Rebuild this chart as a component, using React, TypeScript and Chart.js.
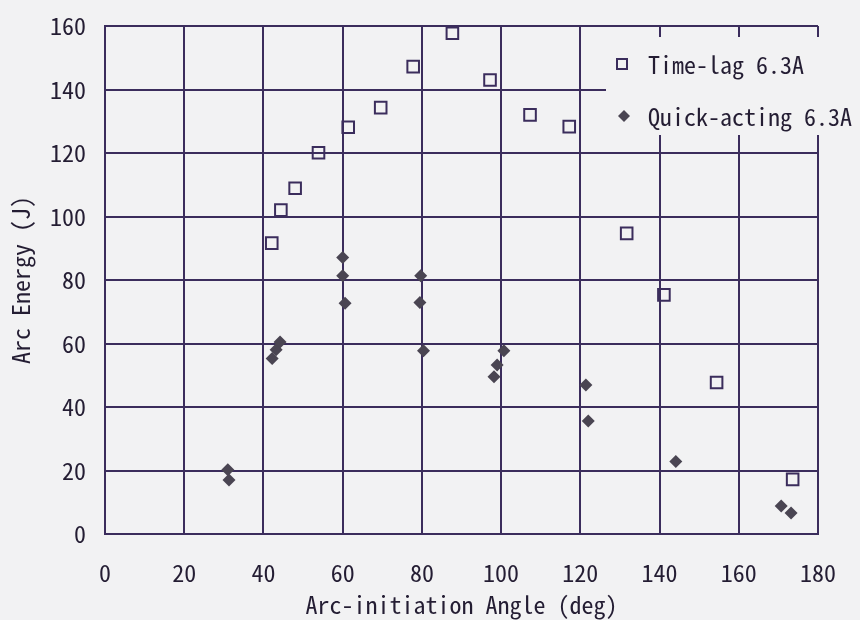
import React, { useEffect, useRef } from "react";
import { Chart, registerables } from "chart.js";

Chart.register(...registerables);

const timeLagX = [42.1, 44.4, 48.0, 53.9, 61.4, 69.6, 77.8, 87.7, 97.2, 107.3, 117.2, 131.7, 141.1, 154.4, 173.6];
const timeLagY = [91.6, 102.0, 108.9, 120.1, 128.1, 134.3, 147.2, 157.7, 143.0, 132.0, 128.3, 94.7, 75.3, 47.7, 17.2];

const quickX = [31.0, 31.3, 42.2, 43.2, 44.2, 60.0, 60.0, 60.6, 79.7, 79.5, 80.4, 98.2, 99.0, 100.7, 121.4, 122.0, 144.1, 170.7, 173.2];
const quickY = [20.2, 17.0, 55.3, 58.0, 60.5, 87.1, 81.3, 72.7, 81.3, 72.9, 57.7, 49.5, 53.2, 57.7, 46.9, 35.6, 22.8, 8.8, 6.6];

const seriesLabels = ["Time-lag 6.3A", "Quick-acting 6.3A"];
const xTitle = "Arc-initiation Angle (deg)";
const yTitle = "Arc Energy (J)";

const BG = "#f2f2f3";
const LINE = "#3b2d5c";
const SQUARE = "#3b2d5c";
const DIAMOND = "#4a4552";
const TEXT = "#241d33";
const MONO = "'Noto Sans Mono CJK JP', 'DejaVu Sans Mono', monospace";

const legendPlugin = {
  id: "customLegend",
  afterDraw(chart: any) {
    const ctx = chart.ctx;
    ctx.save();
    ctx.fillStyle = BG;
    ctx.fillRect(606, 37, 254, 98);
    ctx.font = `500 24px ${MONO}`;
    ctx.textBaseline = "middle";
    ctx.textAlign = "left";
    const rows = [64, 116];
    chart.data.datasets.forEach((ds: any, i: number) => {
      const y = rows[i];
      ctx.beginPath();
      if (i === 0) {
        ctx.strokeStyle = SQUARE;
        ctx.lineWidth = 2;
        ctx.strokeRect(617, y - 5, 10, 10);
      } else {
        ctx.fillStyle = DIAMOND;
        ctx.moveTo(624, y - 6);
        ctx.lineTo(630, y);
        ctx.lineTo(624, y + 6);
        ctx.lineTo(618, y);
        ctx.closePath();
        ctx.fill();
      }
      ctx.fillStyle = TEXT;
      ctx.fillText(ds.label, 648, y + 1);
    });
    ctx.restore();
  },
};

const bgPlugin = {
  id: "bg",
  beforeDraw(chart: any) {
    const ctx = chart.ctx;
    ctx.save();
    ctx.fillStyle = BG;
    ctx.fillRect(0, 0, chart.width, chart.height);
    ctx.restore();
  },
};

export default function App() {
  const ref = useRef<HTMLCanvasElement>(null);
  useEffect(() => {
    document.body.style.margin = "0";
    const c = ref.current!;
    const chart = new Chart(c, {
      type: "scatter",
      data: {
        datasets: [
          {
            label: seriesLabels[0],
            data: timeLagX.map((x, i) => ({ x, y: timeLagY[i] })),
            pointStyle: "rect",
            pointRadius: 8.2,
            pointBorderWidth: 2,
            pointBackgroundColor: "rgba(0,0,0,0)",
            pointBorderColor: SQUARE,
          },
          {
            label: seriesLabels[1],
            data: quickX.map((x, i) => ({ x, y: quickY[i] })),
            pointStyle: "rectRot",
            pointRadius: 6.5,
            pointBorderWidth: 0,
            pointBackgroundColor: DIAMOND,
            pointBorderColor: DIAMOND,
          },
        ],
      },
      options: {
        responsive: false,
        animation: false,
        layout: { autoPadding: false, padding: { top: 26, right: 42, left: 0, bottom: 0 } },
        plugins: { legend: { display: false }, tooltip: { enabled: false } },
        scales: {
          x: {
            type: "linear",
            min: 0,
            max: 180,
            ticks: { stepSize: 20, padding: 0, color: TEXT, font: { family: MONO, size: 24, weight: "500" } },
            grid: { color: LINE, lineWidth: 2, drawTicks: true, tickLength: 24, tickColor: "rgba(0,0,0,0)" },
            border: { color: LINE, width: 2 },
            title: { display: true, text: xTitle, color: TEXT, font: { family: MONO, size: 24, weight: "500" }, padding: { top: 0, bottom: 1 } },
            afterFit(scale: any) { scale.height = 86; },
          },
          y: {
            type: "linear",
            min: 0,
            max: 160,
            ticks: { stepSize: 20, padding: 0, color: TEXT, font: { family: MONO, size: 24, weight: "500" } },
            grid: { color: LINE, lineWidth: 2, drawTicks: true, tickLength: 19, tickColor: "rgba(0,0,0,0)" },
            border: { color: LINE, width: 2 },
            title: { display: true, text: yTitle, color: TEXT, font: { family: MONO, size: 24, weight: "500" }, padding: { top: 6, bottom: 0 } },
            afterFit(scale: any) { scale.width = 105; },
          },
        },
      },
      plugins: [bgPlugin, legendPlugin],
    });
    return () => chart.destroy();
  }, []);
  return <canvas ref={ref} width={860} height={620} style={{ display: "block" }} />;
}
